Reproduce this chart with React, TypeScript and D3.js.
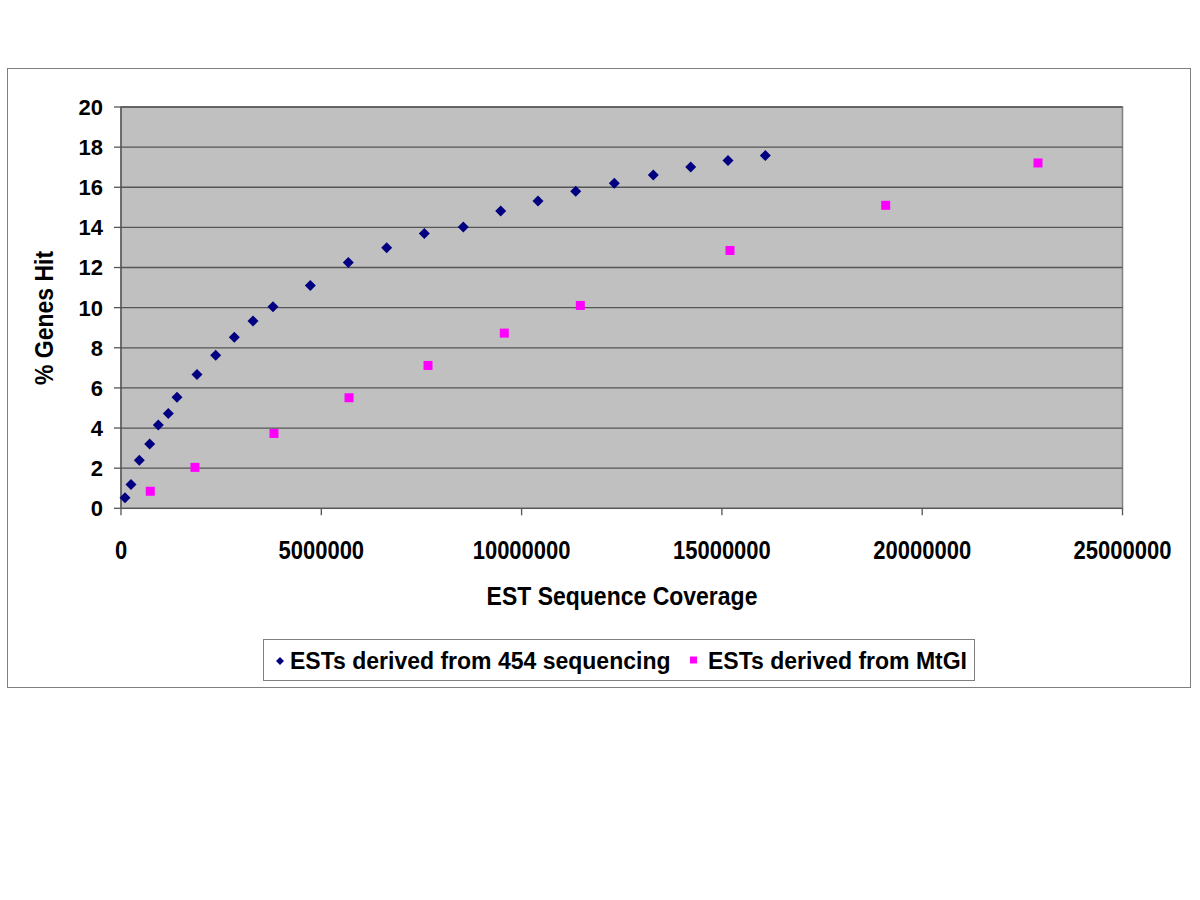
import React from "react";
import * as d3 from "d3";

const seqX: number[] = [100000, 250000, 457000, 716000, 931000, 1181000, 1398000, 1897000, 2364000, 2828000, 3295000, 3794000, 4726000, 5674000, 6633000, 7571000, 8545000, 9478000, 10410000, 11351000, 12314000, 13288000, 14221000, 15153000, 16084000];
const seqY: number[] = [0.53, 1.19, 2.39, 3.2, 4.15, 4.73, 5.54, 6.67, 7.63, 8.53, 9.33, 10.04, 11.1, 12.25, 12.98, 13.7, 14.02, 14.82, 15.32, 15.8, 16.2, 16.61, 17.01, 17.33, 17.58];
const mtgiX: number[] = [731000, 1847000, 3819000, 5692000, 7664000, 9568000, 11466000, 15202000, 19089000, 22891000];
const mtgiY: number[] = [0.85, 2.04, 3.73, 5.51, 7.12, 8.73, 10.11, 12.85, 15.1, 17.21];
const xTicks: number[] = [0, 5000000, 10000000, 15000000, 20000000, 25000000];
const yTicks: number[] = [0, 2, 4, 6, 8, 10, 12, 14, 16, 18, 20];
const seriesNames: string[] = ["ESTs derived from 454 sequencing", "ESTs derived from MtGI"];
const xTitle = "EST Sequence Coverage";
const yTitle = "% Genes Hit";

const FONT = "'Liberation Sans', Arial, sans-serif";
const BLUE = "#000080";
const MAGENTA = "#FF00FF";

export default function App() {
  const left = 121, right = 1122.5, top = 107, bottom = 508.3;
  const x = d3.scaleLinear().domain([0, 25000000]).range([left, right]);
  const y = d3.scaleLinear().domain([0, 20]).range([bottom, top]);
  const diamond = (cx: number, cy: number, r: number) =>
    `M${cx},${cy - r}L${cx + r},${cy}L${cx},${cy + r}L${cx - r},${cy}Z`;

  return (
    <svg width={1200} height={900} style={{ position: "absolute", left: 0, top: 0, background: "#fff" }}>
      <rect x={0} y={0} width={1200} height={900} fill="#fff" />
      <rect x={7.5} y={68.5} width={1183} height={619} fill="#fff" stroke="#808080" strokeWidth={1} />
      <rect x={left} y={top} width={right - left} height={bottom - top} fill="#C0C0C0" stroke="#808080" strokeWidth={1.5} />
      {yTicks.filter((t) => t > 0).map((t) => (
        <line key={"g" + t} x1={left} x2={right} y1={y(t)} y2={y(t)} stroke="#555" strokeWidth={1.3} />
      ))}
      <line x1={left} x2={left} y1={top} y2={bottom} stroke="#555" strokeWidth={1.3} />
      <line x1={left} x2={right} y1={bottom} y2={bottom} stroke="#555" strokeWidth={1.3} />
      {yTicks.map((t) => (
        <g key={"y" + t}>
          <line x1={left - 7} x2={left} y1={y(t)} y2={y(t)} stroke="#555" strokeWidth={1.3} />
          <text x={103} y={y(t)} dy="0.36em" textAnchor="end" fontFamily={FONT} fontWeight="bold" fontSize={22}>{t}</text>
        </g>
      ))}
      {xTicks.map((t) => (
        <g key={"x" + t}>
          <line x1={x(t)} x2={x(t)} y1={bottom} y2={bottom + 7} stroke="#555" strokeWidth={1.3} />
          <text transform={`translate(${x(t)},559) scale(1,1.18)`} textAnchor="middle" fontFamily={FONT} fontWeight="bold" fontSize={22}>{t}</text>
        </g>
      ))}
      <text transform="translate(622,604.5) scale(1,1.12)" textAnchor="middle" fontFamily={FONT} fontWeight="bold" fontSize={23}>{xTitle}</text>
      <text transform={`translate(53,318) rotate(-90) scale(1,1.1)`} textAnchor="middle" fontFamily={FONT} fontWeight="bold" fontSize={23}>{yTitle}</text>
      {seqX.map((v, i) => (
        <path key={"s" + i} d={diamond(x(v), y(seqY[i]), 5.5)} fill={BLUE} />
      ))}
      {mtgiX.map((v, i) => (
        <rect key={"m" + i} x={x(v) - 4.5} y={y(mtgiY[i]) - 4.5} width={9} height={9} fill={MAGENTA} />
      ))}
      <rect x={263.5} y={639.5} width={711} height={41} fill="#fff" stroke="#808080" strokeWidth={1} />
      <path d={diamond(280, 661, 4)} fill={BLUE} />
      <text x={290} y={669} fontFamily={FONT} fontWeight="bold" fontSize={23}>{seriesNames[0]}</text>
      <rect x={690} y={656.5} width={7} height={7} fill={MAGENTA} />
      <text x={708} y={669} fontFamily={FONT} fontWeight="bold" fontSize={23}>{seriesNames[1]}</text>
    </svg>
  );
}
